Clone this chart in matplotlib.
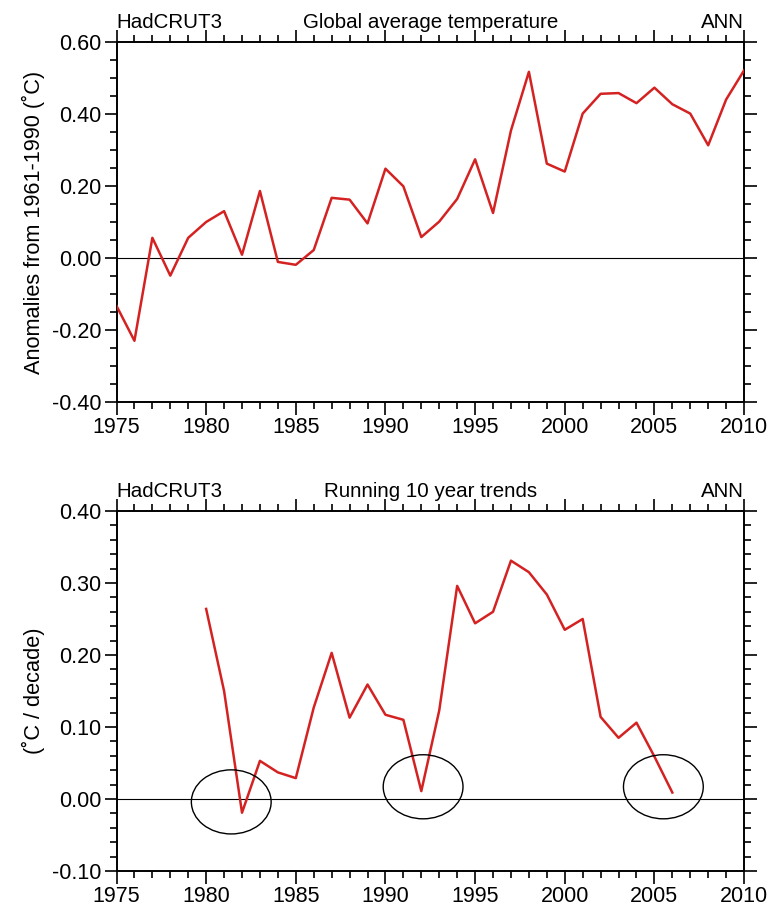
import numpy as np
import matplotlib.pyplot as plt
from matplotlib.patches import Ellipse
from matplotlib.ticker import MultipleLocator, FormatStrFormatter

plt.rcParams['font.family'] = ['Liberation Sans', 'DejaVu Sans']

# HadCRUT3 annual global anomalies (deg C, relative to 1961-1990)
years = list(range(1975, 2011))
anom = [-0.133, -0.23, 0.056, -0.049, 0.056, 0.10, 0.13, 0.009, 0.186, -0.011,
        -0.019, 0.022, 0.167, 0.162, 0.096, 0.248, 0.199, 0.058, 0.101, 0.164,
        0.274, 0.125, 0.354, 0.517, 0.262, 0.240, 0.401, 0.456, 0.458, 0.430,
        0.473, 0.427, 0.401, 0.313, 0.44, 0.521]

# running 10 year trends (deg C / decade)
trend_years = list(range(1980, 2007))
trends = [0.264, 0.150, -0.019, 0.053, 0.037, 0.029, 0.127, 0.203, 0.113, 0.159,
          0.117, 0.110, 0.011, 0.123, 0.296, 0.244, 0.260, 0.331, 0.315, 0.284,
          0.235, 0.250, 0.114, 0.085, 0.106, 0.059, 0.009]

# highlighted near-zero trend periods: (centre year, centre value)
circles = [(1981.4, -0.004), (1992.1, 0.017), (2005.5, 0.017)]

red = '#d42222'

fig = plt.figure(figsize=(7.7, 9.06), dpi=100)
ax1 = fig.add_axes([0.1513, 0.5563, 0.815, 0.3974])
ax2 = fig.add_axes([0.1513, 0.0386, 0.815, 0.3974])


def style_axis(ax, ymin, ymax, ymaj, ymin_step, title):
    ax.set_xlim(1975, 2010)
    ax.set_ylim(ymin, ymax)
    ax.axhline(0, color='black', lw=0.8)
    ax.xaxis.set_major_locator(MultipleLocator(5))
    ax.xaxis.set_minor_locator(MultipleLocator(1))
    ax.yaxis.set_major_locator(MultipleLocator(ymaj))
    ax.yaxis.set_minor_locator(MultipleLocator(ymin_step))
    ax.yaxis.set_major_formatter(FormatStrFormatter('%.2f'))
    ax.tick_params(which='both', direction='out', top=True, right=True,
                   width=1.2, labelsize=15.5, colors='black')
    ax.tick_params(which='major', length=9, pad=2)
    ax.tick_params(which='minor', length=5)
    for s in ax.spines.values():
        s.set_linewidth(1.4)
    ax.set_title('HadCRUT3', loc='left', fontsize=14.8, pad=10)
    ax.set_title(title, loc='center', fontsize=14.8, pad=10)
    ax.set_title('ANN', loc='right', fontsize=14.8, pad=10)


ax1.plot(years, anom, color=red, lw=1.8, zorder=3)
style_axis(ax1, -0.4, 0.6, 0.2, 0.05, 'Global average temperature')
ax1.set_ylabel('Anomalies from 1961-1990 (\u02daC)', fontsize=15.7, labelpad=5)

ax2.plot(trend_years, trends, color=red, lw=1.8, zorder=3)
style_axis(ax2, -0.1, 0.4, 0.1, 0.02, 'Running 10 year trends')
ax2.set_ylabel('(\u02daC / decade)', fontsize=15.7, labelpad=5)

for cx, cy in circles:
    ax2.add_patch(Ellipse((cx, cy), 4.45, 0.089, fill=False,
                          edgecolor='black', lw=1.0, zorder=4))

fig.savefig('out.png', dpi=100)
